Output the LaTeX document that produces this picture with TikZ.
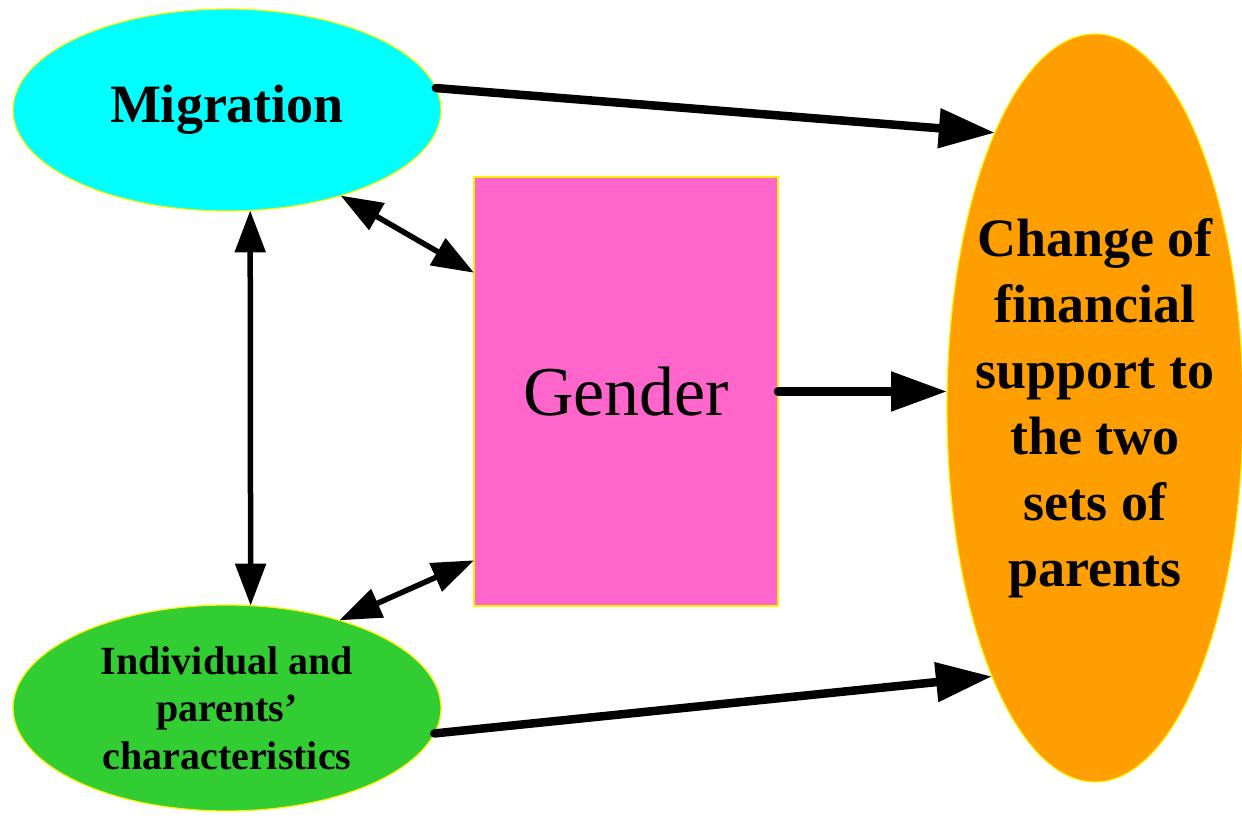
\documentclass[tikz,border=0pt]{standalone}
\usepackage{fontspec}
\setmainfont{Liberation Serif}
\usetikzlibrary{arrows.meta,shapes.geometric}
\definecolor{migc}{HTML}{00FFFF}
\definecolor{genc}{HTML}{FF66CC}
\definecolor{orac}{HTML}{FF9E00}
\definecolor{indc}{HTML}{32CD32}
\tikzset{
  blob/.style={ellipse, draw=yellow, line width=1.2pt, inner sep=0pt, outer sep=0pt, text=black, align=center},
  thickarrow/.style={line width=8.5pt, line cap=round, -{Triangle[length=56pt,width=38pt]}},
  thinarrow/.style={line width=5.5pt, {Triangle[length=42pt,width=30pt]}-{Triangle[length=42pt,width=30pt]}},
}
\begin{document}
\begin{tikzpicture}[x=1pt,y=1pt]
\useasboundingbox (0,0) rectangle (1242,816);
\node[blob, fill=migc, minimum width=428pt, minimum height=202pt, inner xsep=-40pt,
      font=\fontsize{54}{65}\selectfont\bfseries] (mig) at (227,706) {Migration};
\node[blob, fill=indc, minimum width=428pt, minimum height=206pt, inner xsep=-40pt, inner ysep=-20pt,
      font=\fontsize{40}{47.5}\selectfont\bfseries] (ind) at (227,108) {Individual and\\parents’\\characteristics};
\node[draw=yellow, line width=1.2pt, fill=genc, rectangle, minimum width=304pt, minimum height=429pt,
      inner sep=0pt, outer sep=0pt, font=\fontsize{70}{80}\selectfont] (gen) at (626,424.5) {Gender};
\node[blob, fill=orac, minimum width=296pt, minimum height=748pt, inner xsep=-70pt,
      font=\fontsize{54}{66}\selectfont\bfseries] (ora) at (1095,408) {Change of\\financial\\support to\\the two\\sets of\\parents};
\draw[thickarrow] (mig.6.25) -- (ora.110.8);
\draw[thickarrow] (ind.-7.9) -- (ora.-111.7);
\draw[thickarrow] (gen.east) -- (gen.east -| ora.west);
\draw[thinarrow] (mig.-37.8) -- (gen.142.5);
\draw[thinarrow] (ind.38.1) -- (gen.-132.6);
\draw[thinarrow] (mig.-77) -- (ind.77.4);
\end{tikzpicture}
\end{document}
